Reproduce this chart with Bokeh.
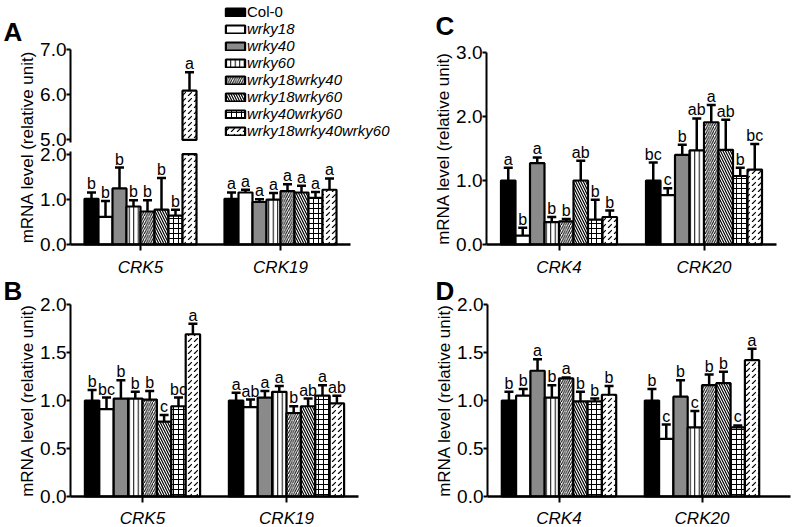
from bokeh.plotting import figure
from bokeh.layouts import row, column
from bokeh.models import (ColumnDataSource, FixedTicker, Whisker, TeeHead, LabelSet,
                          Label, Legend, LegendItem, Range1d)
from bokeh.embed import file_html
from bokeh.resources import INLINE
from bokeh.core.properties import value

# ---------------- data ----------------
genotypes = ["Col-0", "wrky18", "wrky40", "wrky60", "wrky18wrky40",
             "wrky18wrky60", "wrky40wrky60", "wrky18wrky40wrky60"]

# Panel A
a_genes = ["CRK5", "CRK19"]
a_crk5_mean = [1.01, 0.61, 1.24, 0.84, 0.73, 0.77, 0.64, 6.09]
a_crk5_sd = [0.14, 0.35, 0.46, 0.14, 0.25, 0.70, 0.13, 0.41]
a_crk5_sig = ["b", "b", "b", "b", "b", "b", "b", "a"]
a_crk19_mean = [1.01, 1.15, 0.94, 0.99, 1.18, 1.15, 1.03, 1.21]
a_crk19_sd = [0.14, 0.06, 0.06, 0.15, 0.15, 0.15, 0.13, 0.25]
a_crk19_sig = ["a", "a", "a", "a", "a", "a", "a", "a"]

# Panel B
b_genes = ["CRK5", "CRK19"]
b_crk5_mean = [1.00, 0.91, 1.02, 1.02, 1.01, 0.78, 0.94, 1.69]
b_crk5_sd = [0.11, 0.12, 0.19, 0.07, 0.09, 0.07, 0.09, 0.11]
b_crk5_sig = ["b", "bc", "b", "b", "b", "c", "bc", "a"]
b_crk19_mean = [1.00, 0.93, 1.03, 1.09, 0.87, 0.94, 1.05, 0.97]
b_crk19_sd = [0.08, 0.08, 0.07, 0.06, 0.07, 0.08, 0.11, 0.08]
b_crk19_sig = ["a", "ab", "a", "a", "b", "ab", "a", "ab"]

# Panel C
c_genes = ["CRK4", "CRK20"]
c_crk4_mean = [1.00, 0.14, 1.27, 0.35, 0.36, 1.00, 0.39, 0.43]
c_crk4_sd = [0.20, 0.12, 0.09, 0.08, 0.04, 0.31, 0.31, 0.10]
c_crk4_sig = ["a", "b", "a", "b", "b", "ab", "b", "b"]
c_crk20_mean = [1.00, 0.77, 1.40, 1.47, 1.91, 1.48, 1.07, 1.17]
c_crk20_sd = [0.28, 0.11, 0.16, 0.50, 0.27, 0.47, 0.13, 0.40]
c_crk20_sig = ["bc", "c", "b", "ab", "a", "ab", "b", "bc"]

# Panel D
d_genes = ["CRK4", "CRK20"]
d_crk4_mean = [1.00, 1.05, 1.31, 1.03, 1.23, 0.99, 0.99, 1.06]
d_crk4_sd = [0.09, 0.07, 0.12, 0.13, 0.01, 0.10, 0.03, 0.09]
d_crk4_sig = ["b", "b", "a", "b", "a", "b", "b", "b"]
d_crk20_mean = [1.00, 0.60, 1.04, 0.72, 1.16, 1.18, 0.72, 1.42]
d_crk20_sd = [0.12, 0.15, 0.17, 0.17, 0.11, 0.12, 0.02, 0.12]
d_crk20_sig = ["b", "c", "b", "c", "b", "b", "c", "a"]

y_label = "mRNA level (relative unit)"

# ---------------- style ----------------
FONT = "Liberation Sans"
BAR_W = 0.1
BAR_STYLES = [
    dict(fill_color="black"),
    dict(fill_color="white"),
    dict(fill_color="#8a8a8a"),
    dict(fill_color="white", hatch_pattern="|", hatch_scale=4.5, hatch_weight=1.0, hatch_color="black"),
    dict(fill_color="white", hatch_pattern="/", hatch_scale=4.5, hatch_weight=1.0, hatch_color="black"),
    dict(fill_color="white", hatch_pattern="\\", hatch_scale=5.0, hatch_weight=1.2, hatch_color="black"),
    dict(fill_color="white", hatch_pattern="+", hatch_scale=5.0, hatch_weight=1.0, hatch_color="black"),
    dict(fill_color="white", hatch_pattern=",", hatch_scale=6.0, hatch_weight=1.2, hatch_color="black"),
]

# broken axis for panel A
BREAK_LO, BREAK_HI, BREAK_GAP = 2.0, 5.0, 0.311


def a_tf(v):
    return v if v <= BREAK_LO else round(v - BREAK_HI + BREAK_LO + BREAK_GAP, 4)


def ident(v):
    return v


def make_fig(w, h, x0, xu, y0, yu):
    """Figure whose frame fills the canvas; data (0,0) sits at pixel (x0, y0) from top-left."""
    p = figure(width=w, height=h,
               x_range=Range1d(-x0 / xu, (w - x0) / xu),
               y_range=Range1d(-(h - y0) / yu, y0 / yu),
               output_backend="svg", toolbar_location=None,
               min_border_left=0, min_border_right=0,
               min_border_top=0, min_border_bottom=0)
    p.outline_line_color = None
    p.xgrid.visible = False
    p.ygrid.visible = False
    p.background_fill_color = "white"
    p.border_fill_color = "white"
    return p


def style_axes(p, genes, xbound, yticks, ylabels, x_standoff):
    xa = p.xaxis[0]
    xa.fixed_location = 0
    xa.bounds = (0, xbound)
    xa.ticker = FixedTicker(ticks=[i + 0.5 for i in range(len(genes))])
    xa.major_label_overrides = {i + 0.5: g for i, g in enumerate(genes)}
    xa.minor_tick_line_color = None
    xa.major_tick_in = 0
    xa.major_tick_out = 6
    xa.major_tick_line_width = 2
    xa.axis_line_width = 2.5
    xa.major_label_text_font = FONT
    xa.major_label_text_font_style = "italic"
    xa.major_label_text_font_size = "17px"
    xa.major_label_text_color = "black"
    xa.major_label_standoff = x_standoff

    ya = p.yaxis[0]
    ya.fixed_location = 0
    ya.bounds = (0, yticks[-1])
    ya.ticker = FixedTicker(ticks=yticks)
    ya.major_label_overrides = {t: l for t, l in zip(yticks, ylabels)}
    ya.minor_tick_line_color = None
    ya.major_tick_in = 0
    ya.major_tick_out = 4
    ya.major_tick_line_width = 2
    ya.axis_line_width = 2
    ya.major_label_text_font = FONT
    ya.major_label_text_font_size = "19px"
    ya.major_label_text_color = "black"
    ya.major_label_standoff = 0
    ya.axis_label = y_label
    ya.axis_label_text_font = FONT
    ya.axis_label_text_font_size = "17px"
    ya.axis_label_text_font_style = "normal"
    ya.axis_label_text_color = "black"
    ya.axis_label_standoff = 0


def draw_bars(p, means, sds, sigs, tf=ident, broken=False):
    renderers = []
    n_genes = len(means)
    for si, g in enumerate(genotypes):
        xs = [ci + 0.5 + (si - 3.5) * BAR_W for ci in range(n_genes)]
        vals = [means[ci][si] for ci in range(n_genes)]
        tops = [tf(min(v, BREAK_LO)) if broken else v for v in vals]
        r = p.vbar(x=xs, top=tops, bottom=0, width=BAR_W, line_color="black",
                   line_width=2.2, **BAR_STYLES[si])
        renderers.append(r)
        if broken:
            hx = [x for x, v in zip(xs, vals) if v > BREAK_HI]
            ht = [tf(v) for v in vals if v > BREAK_HI]
            if hx:
                p.vbar(x=hx, top=ht, bottom=tf(BREAK_HI), width=BAR_W, line_color="black",
                       line_width=2.2, **BAR_STYLES[si])
    xs, lo, up, lab = [], [], [], []
    for ci in range(n_genes):
        for si in range(len(genotypes)):
            xs.append(ci + 0.5 + (si - 3.5) * BAR_W)
            lo.append(tf(means[ci][si]))
            up.append(tf(means[ci][si] + sds[ci][si]))
            lab.append(sigs[ci][si])
    src = ColumnDataSource(dict(x=xs, lower=lo, upper=up, sig=lab))
    p.add_layout(Whisker(source=src, base="x", lower="lower", upper="upper",
                         dimension="height", line_color="black", line_width=2.5,
                         upper_head=TeeHead(size=9, line_width=2.5, line_color="black"),
                         lower_head=None))
    p.add_layout(LabelSet(source=src, x="x", y="upper", text="sig", y_offset=3,
                          text_align="center", text_baseline="alphabetic",
                          text_font=value(FONT), text_font_size="16px", text_color="black"))
    return renderers


def panel_letter(p, letter, dx, dy):
    p.add_layout(Label(x=p.x_range.start, y=p.y_range.end, x_offset=dx, y_offset=-dy,
                       text=letter, text_font=FONT, text_font_style="bold",
                       text_font_size="26px", text_align="left", text_baseline="middle",
                       text_color="black"))


# ---------------- panel A ----------------
a_ticks_raw = [0.0, 1.0, 2.0, 5.0, 6.0, 7.0]
pa = make_fig(408, 276, 70, 140, 244, 45.23)
style_axes(pa, a_genes, 2, [a_tf(v) for v in a_ticks_raw], ["%.1f" % v for v in a_ticks_raw], 7)
ra = draw_bars(pa, [a_crk5_mean, a_crk19_mean], [a_crk5_sd, a_crk19_sd],
               [a_crk5_sig, a_crk19_sig], tf=a_tf, broken=True)
# white gap in the y axis line between 2.0 and 5.0
pa.add_layout(Label(x=0, y=(BREAK_LO + a_tf(BREAK_HI)) / 2, text="\u2003", text_font_size="8px",
                    text_align="center", text_baseline="middle",
                    background_fill_color="white", level="overlay"))
panel_letter(pa, "A", 3, 31)

leg_common = dict(glyph_width=24, glyph_height=10, label_height=14, label_standoff=0,
                  spacing=0, padding=0, margin=0, border_line_alpha=0,
                  background_fill_alpha=0, label_text_font=FONT,
                  label_text_font_size="15px", label_text_color="black")
leg1 = Legend(items=[LegendItem(label=genotypes[0], renderers=[ra[0]])],
              location=(223, 256), **leg_common)
leg2 = Legend(items=[LegendItem(label=g, renderers=[r]) for g, r in zip(genotypes[1:], ra[1:])],
              location=(223, 137), label_text_font_style="italic", **leg_common)
pa.add_layout(leg1)
pa.add_layout(leg2)

# ---------------- panel B ----------------
b_ticks = [0.0, 0.5, 1.0, 1.5, 2.0]
pb = make_fig(408, 251, 70, 144, 220, 96)
style_axes(pb, b_genes, 2, b_ticks, ["%.1f" % v for v in b_ticks], 6)
draw_bars(pb, [b_crk5_mean, b_crk19_mean], [b_crk5_sd, b_crk19_sd], [b_crk5_sig, b_crk19_sig])
panel_letter(pb, "B", 3, 14)

# ---------------- panel C ----------------
c_ticks = [0.0, 1.0, 2.0, 3.0]
pc = make_fig(384, 276, 78, 145, 244, 64)
style_axes(pc, c_genes, 2, c_ticks, ["%.1f" % v for v in c_ticks], 7)
draw_bars(pc, [c_crk4_mean, c_crk20_mean], [c_crk4_sd, c_crk20_sd], [c_crk4_sig, c_crk20_sig])
panel_letter(pc, "C", 27, 25)

# ---------------- panel D ----------------
d_ticks = [0.0, 0.5, 1.0, 1.5, 2.0]
pd_ = make_fig(384, 251, 79, 143, 220, 96)
style_axes(pd_, d_genes, 2.12, d_ticks, ["%.1f" % v for v in d_ticks], 6)
draw_bars(pd_, [d_crk4_mean, d_crk20_mean], [d_crk4_sd, d_crk20_sd], [d_crk4_sig, d_crk20_sig])
panel_letter(pd_, "D", 27, 14)

layout = row(column(pa, pb, spacing=0), column(pc, pd_, spacing=0), spacing=0)

open("out.html", "w").write(file_html(layout, INLINE))
